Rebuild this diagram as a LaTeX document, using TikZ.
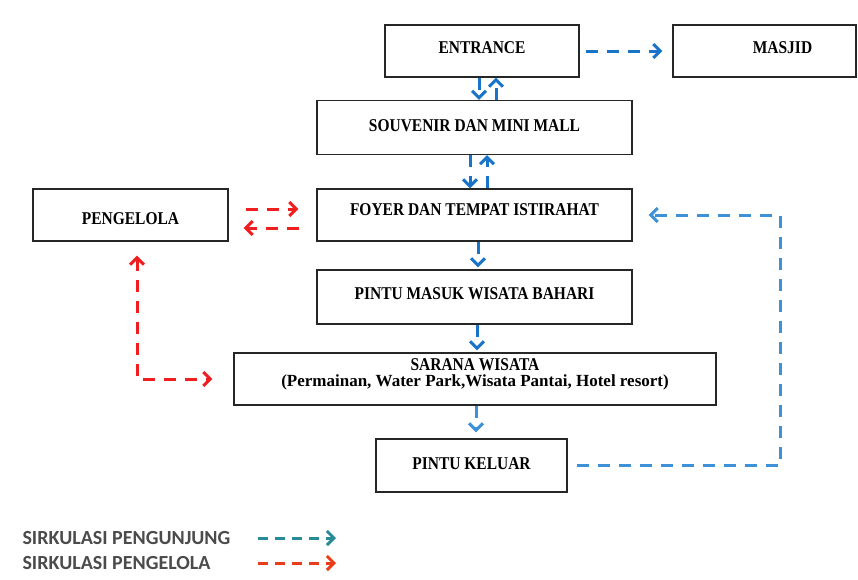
\documentclass[tikz,border=0pt]{standalone}
\usepackage{fontspec}
\setmainfont{Liberation Serif}
\newfontfamily\kotakfont[FakeStretch=0.86]{Liberation Serif}
\newfontfamily\legendfont{Carlito}
\usetikzlibrary{arrows.meta}

\definecolor{biru}{RGB}{25,115,200}
\definecolor{birumuda}{RGB}{60,145,215}
\definecolor{merah}{RGB}{240,30,30}
\definecolor{hijaulaut}{RGB}{40,140,150}
\definecolor{jingga}{RGB}{235,60,25}
\definecolor{tulisan}{RGB}{75,75,75}

\begin{document}
\begin{tikzpicture}[x=1pt, y=-1pt,
    >={Straight Barb[length=7pt,width=14pt]},
    kotak/.style={draw=black!85, line width=1.2pt, inner sep=2pt, align=center,
        text height=12pt, text depth=0pt,
        font=\kotakfont\bfseries\fontsize{18}{16}\selectfont},
    panah/.style={->, line width=3pt, dash pattern=on 12pt off 9pt},
    alurbiru/.style={panah, biru},
    alurmerah/.style={panah, merah},
    legenda/.style={anchor=west, text=tulisan, font=\legendfont\bfseries\fontsize{20}{22}\selectfont}]

    \useasboundingbox (0,0) rectangle (858,579);

    % Les blocs du parcours
    \node[kotak, minimum width=194, minimum height=52, text depth=8pt] (entrance) at (482,51) {ENTRANCE};
    \node[kotak, minimum width=183, minimum height=52, text depth=8pt] (masjid) at (764.5,51) {\hspace*{36pt}MASJID};
    \node[kotak, minimum width=315, minimum height=54, text depth=5pt] (souvenir) at (474.5,127.5) {SOUVENIR DAN MINI MALL};
    \node[kotak, minimum width=315, minimum height=52, text depth=12pt] (foyer) at (474.5,215) {FOYER DAN TEMPAT ISTIRAHAT};
    \node[kotak, minimum width=195, minimum height=52, text height=18pt] (pengelola) at (130.5,215) {PENGELOLA};
    \node[kotak, minimum width=315, minimum height=54, text depth=8pt] (masuk) at (474.5,297) {PINTU MASUK WISATA BAHARI};
    \node[kotak, minimum width=482, minimum height=52, text height=14pt] (sarana) at (475,379)
        {SARANA WISATA\\{\rmfamily\fontsize{17}{16}\selectfont(Permainan, Water Park,Wisata Pantai, Hotel resort)}};
    \node[kotak, minimum width=191, minimum height=53, text depth=5pt] (keluar) at (471.5,465.5) {PINTU KELUAR};

    % Circulation des visiteurs
    \draw[alurbiru, shorten <=6pt, shorten >=10pt] (entrance.east) -- (masjid.west);
    \draw[alurbiru] (entrance.south -| 479,0) -- (souvenir.north -| 479,0);
    \draw[alurbiru] (souvenir.north -| 496,0) -- (entrance.south -| 496,0);
    \draw[alurbiru] (souvenir.south -| 470,0) -- (foyer.north -| 470,0);
    \draw[alurbiru] (foyer.north -| 487,0) -- (souvenir.south -| 487,0);
    \draw[alurbiru, shorten >=2pt] (foyer.south -| 478,0) -- (masuk.north -| 478,0);
    \draw[alurbiru, shorten >=2pt] (masuk.south -| 477,0) -- (sarana.north -| 477,0);
    \draw[alurbiru, birumuda, shorten >=6pt] (sarana.south -| 476,0) -- (keluar.north -| 476,0);

    % Retour de la sortie vers le foyer
    \coordinate (belok) at (780,215);
    \draw[alurbiru, birumuda, shorten <=9pt, shorten >=16pt] (keluar.east) -| (belok) -- (foyer.east);

    % Circulation du gestionnaire
    \draw[alurmerah, shorten <=17pt, shorten >=18pt] (pengelola.east |- 0,209) -- (foyer.west |- 0,209);
    \draw[alurmerah, shorten <=17pt, shorten >=15pt] (foyer.west |- 0,228) -- (pengelola.east |- 0,228);
    \draw[alurmerah, <->, shorten <=14pt, shorten >=21pt] (pengelola.south -| 137,0) |- (sarana.west);

    % La legende
    \node[legenda] (pengunjung) at (19,538) {SIRKULASI PENGUNJUNG};
    \node[legenda] (staf) at (19,563) {SIRKULASI PENGELOLA};
    \coordinate (a1) at (258,538);
    \coordinate (a2) at (336,538);
    \coordinate (b1) at (258,563);
    \coordinate (b2) at (336,563);
    \draw[panah, hijaulaut, dash pattern=on 10pt off 7pt] (a1) -- (a2);
    \draw[panah, jingga, dash pattern=on 10pt off 7pt] (b1) -- (b2);

\end{tikzpicture}
\end{document}
